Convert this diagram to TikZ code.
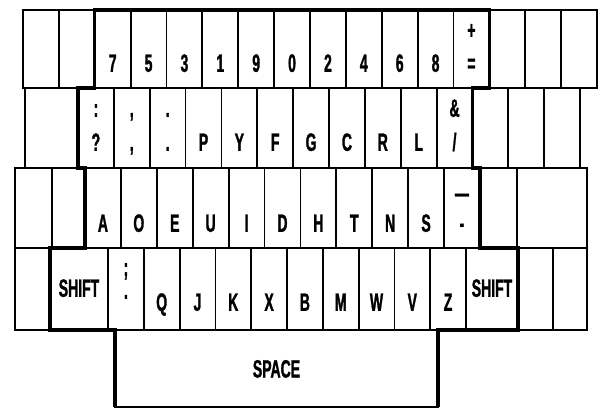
\documentclass[tikz,border=0pt]{standalone}
\usepackage{fontspec}
\usepackage{tikz}
\usetikzlibrary{positioning}
\newfontfamily\keyfont[FakeStretch=0.56, FakeBold=1.2]{Liberation Sans}
\tikzset{
  keybox/.style={draw, line width=1.8pt, inner sep=0pt, outer sep=0pt, anchor=north west, minimum height=#1},
  keybox/.default=80pt,
  keylab/.style={inner sep=0pt, text height=18pt, text depth=0pt, font=\keyfont\bfseries\fontsize{25}{25}\selectfont},
  rim/.style={line width=3.4pt, line join=miter}
}

\begin{document}
\begin{tikzpicture}[x=1pt, y=-1pt, node distance=17pt]
  \useasboundingbox[fill=white] (0,0) rectangle (603,409);
  % row 1
  \foreach \i in {1,...,16}
    \node[keybox=78pt, minimum width=35.875pt] (r1k\i) at ({23+(\i-1)*35.875}, 10) {};
  \foreach \i/\t in {3/7, 4/5, 5/3, 6/1, 7/9, 8/0, 9/2, 10/4, 11/6, 12/8, 13/=}
    \node[keylab, above=16pt of r1k\i.south] (l1k\i) {\t};
  \node[keylab, above=49pt of r1k13.south] (u1k13) {+};
  % row 2
  \node[keybox, minimum width=53pt] (r2k1) at (25,88) {};
  \foreach \i in {2,...,15}
    \node[keybox, minimum width=35.86pt] (r2k\i) at ({78+(\i-2)*35.86}, 88) {};
  \foreach \i/\t in {2/?, 3/{,}, 4/., 5/P, 6/Y, 7/F, 8/G, 9/C, 10/R, 11/L, 12/{/}}
    \node[keylab, above=of r2k\i.south] (l2k\i) {\t};
  \foreach \i/\t in {2/:, 3/{,}, 4/., 12/\&}
    \node[keylab, above=51pt of r2k\i.south] (u2k\i) {\t};
  % row 3
  \node[keybox, minimum width=37pt] (r3k1) at (15,168) {};
  \node[keybox, minimum width=33pt] (r3k2) at (52,168) {};
  \foreach \i in {3,...,13}
    \node[keybox, minimum width=35.9pt] (r3k\i) at ({85+(\i-3)*35.9}, 168) {};
  \node[keybox, minimum width=37pt] (r3k14) at (480,168) {};
  \node[keybox, minimum width=70pt] (r3k15) at (517,168) {};
  \foreach \i/\t in {3/A, 4/O, 5/E, 6/U, 7/I, 8/D, 9/H, 10/T, 11/N, 12/S, 13/-}
    \node[keylab, above=16pt of r3k\i.south] (l3k\i) {\t};
  \node[keylab, above=46pt of r3k13.south] (u3k13) {—};
  % row 4
  \node[keybox=82pt, minimum width=35pt] (r4k1) at (15,248) {};
  \node[keybox=82pt, minimum width=58pt] (r4k2) at (50,248) {};
  \foreach \i in {3,...,12}
    \node[keybox=82pt, minimum width=35.8pt] (r4k\i) at ({108+(\i-3)*35.8}, 248) {};
  \node[keybox=82pt, minimum width=52pt] (r4k13) at (466,248) {};
  \node[keybox=82pt, minimum width=35pt] (r4k14) at (518,248) {};
  \node[keybox=82pt, minimum width=34pt] (r4k15) at (553,248) {};
  \foreach \i/\t in {4/Q, 5/J, 6/K, 7/X, 8/B, 9/M, 10/W, 11/V, 12/Z}
    \node[keylab, above=19pt of r4k\i.south] (l4k\i) {\t};
  \node[keylab, above=54pt of r4k3.south] (u4k3) {;};
  \node[keylab, above=31pt of r4k3.south] (l4k3) {.};
  \node[keylab, above=33pt of r4k2.south] (shl) {SHIFT};
  \node[keylab, above=33pt of r4k13.south] (shr) {SHIFT};
  % space bar
  \node[keybox=77pt, minimum width=323pt] (space) at (115,330) {};
  \node[keylab] (spl) at (space.center) {SPACE};
  % heavy outline round the main block
  \draw[rim] (space.south east) -- (space.north east) -- (r4k13.south east)
    -- (r4k13.north east) -- (r3k13.south east) -- (r3k13.north east)
    -- (r2k12.south east) -- (r2k12.north east) -- (r1k13.south east)
    -- (r1k13.north east) -- (r1k3.north west) -- (r1k3.south west)
    -- (r2k2.north west) -- (r2k2.south west) -- (r3k3.north west)
    -- (r3k3.south west) -- (r4k2.north west) -- (r4k2.south west)
    -- (space.north west) -- (space.south west);
\end{tikzpicture}
\end{document}
